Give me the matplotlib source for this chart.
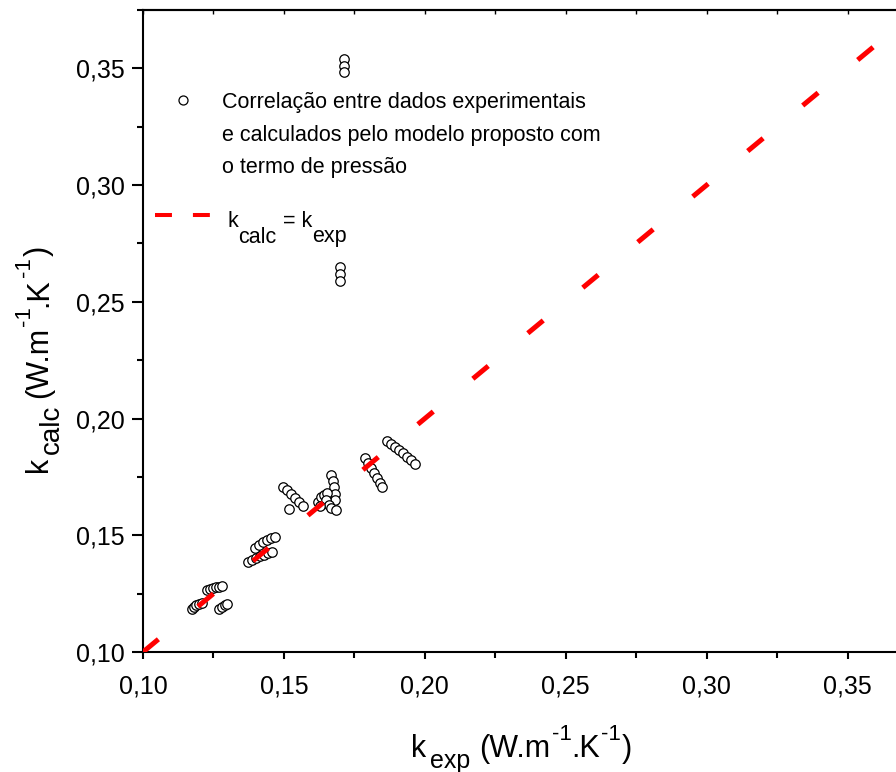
import matplotlib
matplotlib.use("Agg")
import matplotlib.pyplot as plt
from matplotlib.lines import Line2D
from matplotlib.ticker import MultipleLocator, FuncFormatter

# ---- data -------------------------------------------------------------
# experimental thermal conductivity (W/m.K)
k_exp = [
    0.1174, 0.1181, 0.1188, 0.1199, 0.1209,
    0.1227, 0.1238, 0.1248, 0.1259, 0.1270, 0.1280,
    0.1270, 0.1280, 0.1291, 0.1298,
    0.1372, 0.1387, 0.1401, 0.1415, 0.1429, 0.1443, 0.1457,
    0.1397, 0.1411, 0.1426, 0.1440, 0.1454, 0.1468,
    0.1496, 0.1511, 0.1525, 0.1539, 0.1553, 0.1567, 0.1518,
    0.1667, 0.1674, 0.1677, 0.1681, 0.1681,
    0.1621, 0.1631, 0.1642, 0.1652, 0.1649, 0.1660, 0.1667, 0.1684, 0.1628,
    0.1787, 0.1798, 0.1809, 0.1819, 0.1830, 0.1840, 0.1848,
    0.1865, 0.1879, 0.1894, 0.1908, 0.1922, 0.1936, 0.1950, 0.1965,
    0.1714, 0.1714, 0.1714,
    0.1698, 0.1698, 0.1698,
]
# conductivity calculated by the proposed model with the pressure term
k_calc = [
    0.1184, 0.1193, 0.1202, 0.1206, 0.1210,
    0.1266, 0.1270, 0.1274, 0.1279, 0.1279, 0.1283,
    0.1184, 0.1193, 0.1202, 0.1206,
    0.1386, 0.1395, 0.1403, 0.1412, 0.1416, 0.1425, 0.1429,
    0.1446, 0.1459, 0.1472, 0.1480, 0.1489, 0.1493,
    0.1708, 0.1695, 0.1678, 0.1660, 0.1643, 0.1626, 0.1613,
    0.1759, 0.1733, 0.1708, 0.1678, 0.1652,
    0.1643, 0.1665, 0.1673, 0.1682, 0.1652, 0.1630, 0.1618, 0.1609, 0.1626,
    0.1832, 0.1810, 0.1789, 0.1768, 0.1746, 0.1725, 0.1708,
    0.1905, 0.1892, 0.1879, 0.1866, 0.1853, 0.1836, 0.1823, 0.1806,
    0.3540, 0.3512, 0.3486,
    0.2651, 0.2621, 0.2591,
]
# identity line k_calc = k_exp
identity = [0.10, 0.40]

x_range = (0.10, 0.375)
y_range = (0.10, 0.375)
major_step = 0.05
minor_step = 0.025

legend_text = ["Correlação entre dados experimentais",
               "e calculados pelo modelo proposto com",
               "o termo de pressão"]

# ---- figure -----------------------------------------------------------
plt.rcParams["font.family"] = ["Liberation Sans", "DejaVu Sans"]
plt.rcParams["lines.scale_dashes"] = False

W, H, DPI = 896, 772, 100
fig = plt.figure(figsize=(W / DPI, H / DPI), dpi=DPI)
ax = fig.add_axes([143 / W, 1 - 652 / H, 775 / W, 642 / H])


def px(x, y):
    """pixel position (origin top-left) -> figure fraction"""
    return x / W, 1 - y / H


ax.plot(k_exp, k_calc, ls="none", marker="o", ms=6.8, mfc="white",
        mec="black", mew=0.9, zorder=3)
ax.plot(identity, identity, color="#ff0000", lw=3.6, dashes=(14.4, 37.0),
        dash_capstyle="butt", zorder=4)

ax.set_xlim(*x_range)
ax.set_ylim(*y_range)

fmt = FuncFormatter(lambda v, _: f"{v:.2f}".replace(".", ","))
for axis in (ax.xaxis, ax.yaxis):
    axis.set_major_locator(MultipleLocator(major_step))
    axis.set_minor_locator(MultipleLocator(minor_step))
    axis.set_major_formatter(fmt)

ax.tick_params(axis="both", which="both", direction="out", width=1.5,
               labelsize=18, top=False, right=False)
ax.tick_params(axis="x", which="major", length=5, pad=11)
ax.tick_params(axis="x", which="minor", length=4)
ax.tick_params(axis="y", which="major", length=8, pad=5)
ax.tick_params(axis="y", which="minor", length=4)

for side in ("left", "bottom", "top"):
    ax.spines[side].set_linewidth(1.5)
ax.spines["right"].set_visible(False)

top = ax.secondary_xaxis("top")
top.xaxis.set_major_locator(MultipleLocator(minor_step))
top.xaxis.set_minor_locator(MultipleLocator(minor_step))
top.tick_params(axis="x", which="both", direction="in", length=3,
                width=1.0, labeltop=False)
top.spines["top"].set_linewidth(1.5)

# ---- composite labels with sub/superscripts ---------------------------
renderer = fig.canvas.get_renderer()


def run_width(s, size):
    t = fig.text(0, 0, s, fontsize=size)
    w = t.get_window_extent(renderer).width
    t.remove()
    return w


def rich_text(pieces, x0, y0, vertical=False):
    """pieces: (text, fontsize, baseline shift px, gap after px)"""
    pos = 0.0
    for s, fs, dy, gap in pieces:
        w = run_width(s, fs)
        if vertical:
            fig.text(*px(x0 + dy, y0 - pos), s, fontsize=fs, rotation=90,
                     rotation_mode="anchor", ha="left", va="baseline")
        else:
            fig.text(*px(x0 + pos, y0 + dy), s, fontsize=fs,
                     ha="left", va="baseline")
        pos += w + gap


main, sub, sup = 22, 18, 16
x_label = [("k", main, 0, 4), ("exp", sub, 11, 9), ("(W.m", main, 0, 1),
           ("-1", sup, -17, 0), (".K", main, 0, 1), ("-1", sup, -17, 1),
           (")", main, 0, 0)]
y_label = [("k", main, 0, 3), ("calc", 20, 12, 6), ("(W.m", main, 0, 1),
           ("-1", sup, -17, 0), (".K", main, 0, 1), ("-1", sup, -17, 1),
           (")", main, 0, 0)]
rich_text(x_label, 411, 757)
rich_text(y_label, 47, 472, vertical=True)

# ---- legend -----------------------------------------------------------
fig.add_artist(Line2D([px(183, 0)[0]], [px(0, 100)[1]], ls="none",
                      marker="o", ms=6.5, mfc="white", mec="black", mew=0.9))
for i, line in enumerate(legend_text):
    fig.text(*px(222, 108 + 32.5 * i), line, fontsize=15.5,
             ha="left", va="baseline")

fig.add_artist(Line2D([px(155, 0)[0], px(210, 0)[0]],
                      [px(0, 215)[1]] * 2, color="#ff0000", lw=2.9,
                      dashes=(12.2, 15.1), dash_capstyle="butt"))
leg_pieces = [("k", 15.5, 0, 0), ("calc", 15.5, 16, 7),
              ("= k", 15.5, 0, 0), ("exp", 15.5, 15, 0)]
rich_text(leg_pieces, 227, 227)

fig.savefig("out.png", dpi=DPI)
